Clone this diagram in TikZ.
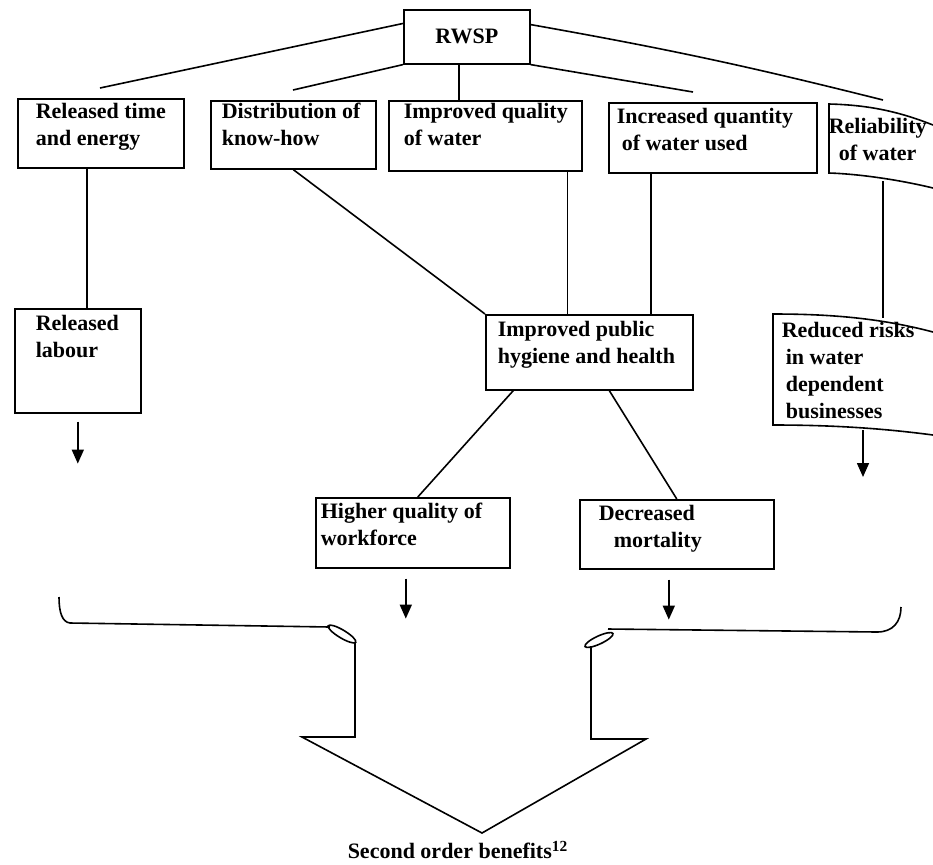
\documentclass[tikz,border=0pt]{standalone}
\usepackage{fontspec}
\setmainfont{Liberation Serif}
\usetikzlibrary{arrows.meta,calc}

\begin{document}
\begin{tikzpicture}[x=0.5pt,y=-0.5pt,line width=0.8pt,
	font=\fontsize{11}{13.5}\selectfont\bfseries,
	box/.style={draw,anchor=north west,inner sep=0pt},
	txt/.style={anchor=north west,inner sep=0pt,align=left},
	arr/.style={-{Triangle[length=7pt,width=6pt]}}]
\useasboundingbox (0,0) rectangle (933,864);
% first row
\node[box,minimum width=63pt,minimum height=27pt] (rwsp) at (403,9) {RWSP};
\node[box,minimum width=83pt,minimum height=34.5pt] (rte) at (17,98) {};
\node[txt] (rte-t) at (35,102) {Released time\\and energy};
\node[box,minimum width=82.5pt,minimum height=34pt] (dkh) at (210,100) {};
\node[txt] (dkh-t) at (221,102) {Distribution of\\know-how};
\node[box,minimum width=96.5pt,minimum height=35pt] (iqw) at (388,100) {};
\node[txt] (iqw-t) at (403,102) {Improved quality\\of water};
\node[box,minimum width=104pt,minimum height=35pt] (iqu) at (608,102) {};
\node[txt] (iqu-t) at (616,107) {Increased quantity\\\hspace*{2.5pt}of water used};
\node[txt] (rel-t) at (828,117) {Reliability\\\hspace*{5pt}of water};
\draw (933,125) .. controls (900,112) and (870,105) .. (829,104) -- (829,173)
	.. controls (860,174) and (900,180) .. (933,188);
% second row
\node[box,minimum width=63pt,minimum height=52pt] (rlab) at (14,308) {};
\node[txt] (rlab-t) at (35,314) {Released\\labour};
\node[box,minimum width=103.5pt,minimum height=37.5pt] (hyg) at (485,314) {};
\node[txt] (hyg-t) at (497,320) {Improved public\\hygiene and health};
\node[txt] (red-t) at (781,321) {Reduced risks\\\hspace*{2pt}in water\\\hspace*{2pt}dependent\\\hspace*{2pt}businesses};
\draw (933,332) .. controls (880,318) and (830,314) .. (773,314) -- (773,425)
	.. controls (830,425) and (880,428) .. (933,435);
% third row
\node[box,minimum width=97pt,minimum height=35pt] (hqw) at (315,497) {};
\node[txt] (hqw-t) at (320,502) {Higher quality of\\workforce};
\node[box,minimum width=97pt,minimum height=34.5pt] (dmo) at (579,499) {};
\node[txt] (dmo-t) at (598,504) {Decreased\\\hspace*{7.5pt}mortality};
\node (sob) at (458,850) {Second order benefits\textsuperscript{12}};
% loose ends
\coordinate (e1) at (100,88);
\coordinate (e2) at (293,90);
\coordinate (e3) at (693,92);
\coordinate (e4) at (883,100);
\coordinate (rel-b) at (883,181);
\coordinate (red-n) at (883,318);
\coordinate (red-s) at (863,430);
% lines
\draw ($(rwsp.north west)!0.26!(rwsp.south west)$) -- (e1);
\draw (rwsp.south west) -- (e2);
\draw ([xshift=-4pt]rwsp.south) -- ([xshift=-4pt]rwsp.south |- iqw.north);
\draw (rwsp.south east) -- (e3);
\draw ($(rwsp.north east)!0.28!(rwsp.south east)$) to[bend left=2] (e4);
\draw ([xshift=-7pt]rte.south) -- ([xshift=-7pt]rte.south |- rlab.north);
\draw (dkh.south) -- (hyg.north west);
\draw ([xshift=41pt]iqw.south) -- ([xshift=41pt]iqw.south |- hyg.north);
\draw ([xshift=-31pt]iqu.south) -- ([xshift=-31pt]iqu.south |- hyg.north);
\draw (rel-b) -- (red-n);
\draw ([xshift=-38pt]hyg.south) -- ([xshift=2.5pt]hqw.north);
\draw ([xshift=10pt]hyg.south) -- (dmo.north);
% arrows
\draw[arr] ([yshift=-4pt]rlab.south) -- ++(0,42);
\draw[arr] ([shift={(-3.5pt,-5pt)}]hqw.south) -- ++(0,40);
\draw[arr] ([shift={(-4pt,-5pt)}]dmo.south) -- ++(0,40);
\draw[arr] (red-s) -- ++(0,47);
% big arrow
\draw (59,597) .. controls (59,612) and (62,622) .. (70,623) -- (330,627);
\draw (355,642) -- (355,737) -- (302,737) -- (482,833) -- (646,739) -- (591,739) -- (591,646);
\draw (608,629) -- (877,632) .. controls (893,632) and (901,622) .. (901,607);
\draw[rotate around={-31:(342,634)}] (342,634) ellipse [x radius=8pt,y radius=2pt];
\draw[rotate around={25:(599,640)}] (599,640) ellipse [x radius=7.7pt,y radius=2pt];
\end{tikzpicture}
\end{document}
